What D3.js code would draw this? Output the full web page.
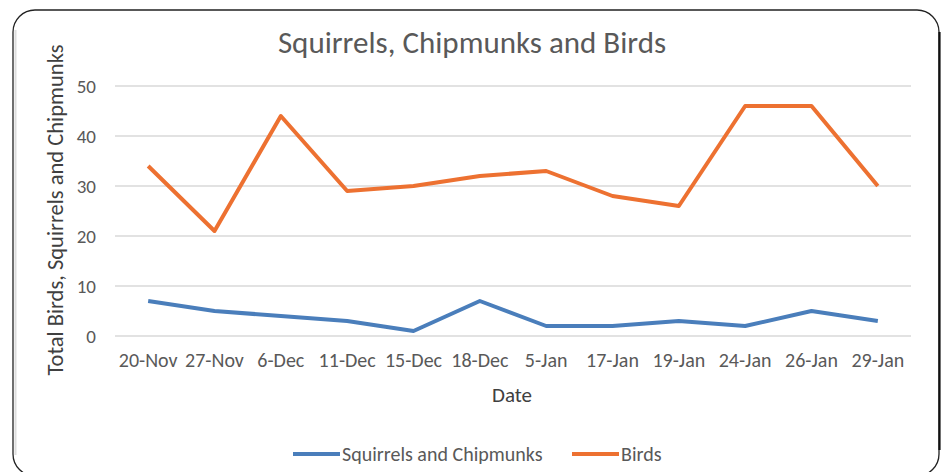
<!DOCTYPE html>
<html>
<head>
<meta charset="utf-8">
<script src="https://cdn.jsdelivr.net/npm/d3@7"></script>
<style>
  body { margin: 0; background: #fff; }
  svg { display: block; font-family: Calibri, Carlito, "Open Sans", sans-serif; }
</style>
</head>
<body>
<svg id="chart" width="945" height="472"></svg>
<script>
// chart values
const dates = ['20-Nov', '27-Nov', '6-Dec', '11-Dec', '15-Dec', '18-Dec',
    '5-Jan', '17-Jan', '19-Jan', '24-Jan', '26-Jan', '29-Jan']
const squirrels = [7, 5, 4, 3, 1, 7, 2, 2, 3, 2, 5, 3]
const birds = [34, 21, 44, 29, 30, 32, 33, 28, 26, 46, 46, 30]
const yTicks = [0, 10, 20, 30, 40, 50]

const series = [
    { name: 'Squirrels and Chipmunks', values: squirrels, color: '#4a7ebb' },
    { name: 'Birds', values: birds, color: '#ed7131' }
]

const svg = d3.select('#chart')

// outer frame (bottom runs off the page)
svg.append('line')
    .attr('x1', 15.5).attr('x2', 15.5)
    .attr('y1', 30).attr('y2', 455)
    .attr('stroke', '#ddd').attr('stroke-width', 2)
svg.append('rect')
    .attr('x', 13).attr('y', 10)
    .attr('width', 926).attr('height', 466)
    .attr('rx', 22).attr('ry', 22)
    .attr('fill', 'none')
    .attr('stroke', '#222')
    .attr('stroke-width', 1.3)
svg.append('line')
    .attr('x1', 939.5).attr('x2', 939.5)
    .attr('y1', 32).attr('y2', 450)
    .attr('stroke', '#111').attr('stroke-width', 2.2)

var x = d3.scaleBand()
    .domain(dates)
    .range([115, 911])

var y = d3.scaleLinear()
    .domain([0, 50])
    .range([336, 86])

// gridlines
svg.selectAll('.grid')
    .data(yTicks)
    .enter()
    .append('line')
    .attr('x1', 115).attr('x2', 911)
    .attr('y1', (d) => y(d)).attr('y2', (d) => y(d))
    .attr('stroke', '#d9d9d9')
    .attr('stroke-width', 1.5)

// y tick labels
svg.selectAll('.ylab')
    .data(yTicks)
    .enter()
    .append('text')
    .attr('x', 96)
    .attr('y', (d) => y(d) + 7)
    .attr('text-anchor', 'end')
    .attr('fill', '#595959')
    .style('font-size', '19px')
    .text((d) => d)

// x tick labels
svg.selectAll('.xlab')
    .data(dates)
    .enter()
    .append('text')
    .attr('x', (d) => x(d) + x.bandwidth() / 2)
    .attr('y', 367)
    .attr('text-anchor', 'middle')
    .attr('fill', '#595959')
    .style('font-size', '20px')
    .text((d) => d)

// lines
var line = d3.line()
    .x((d, i) => x(dates[i]) + x.bandwidth() / 2)
    .y((d) => y(d))

series.forEach(function (s) {
    svg.append('path')
        .attr('d', line(s.values))
        .attr('fill', 'none')
        .attr('stroke', s.color)
        .attr('stroke-width', 4)
        .attr('stroke-linejoin', 'round')
})

// title
svg.append('text')
    .attr('x', 472).attr('y', 53)
    .attr('text-anchor', 'middle')
    .attr('fill', '#595959')
    .style('font-size', '31px')
    .text('Squirrels, Chipmunks and Birds')

// axis titles
svg.append('text')
    .attr('x', 512).attr('y', 402)
    .attr('text-anchor', 'middle')
    .attr('fill', '#404040')
    .style('font-size', '21px')
    .text('Date')

svg.append('text')
    .attr('transform', 'translate(63,210) rotate(-90)')
    .attr('text-anchor', 'middle')
    .attr('fill', '#404040')
    .style('font-size', '22.5px')
    .text('Total Birds,  Squirrels and Chipmunks')

// legend
var legendX = [293, 572]
series.forEach(function (s, i) {
    svg.append('line')
        .attr('x1', legendX[i]).attr('x2', legendX[i] + 47)
        .attr('y1', 454).attr('y2', 454)
        .attr('stroke', s.color)
        .attr('stroke-width', 4)
    svg.append('text')
        .attr('x', legendX[i] + 49).attr('y', 461)
        .attr('fill', '#595959')
        .style('font-size', '20px')
        .text(s.name)
})
</script>
</body>
</html>
